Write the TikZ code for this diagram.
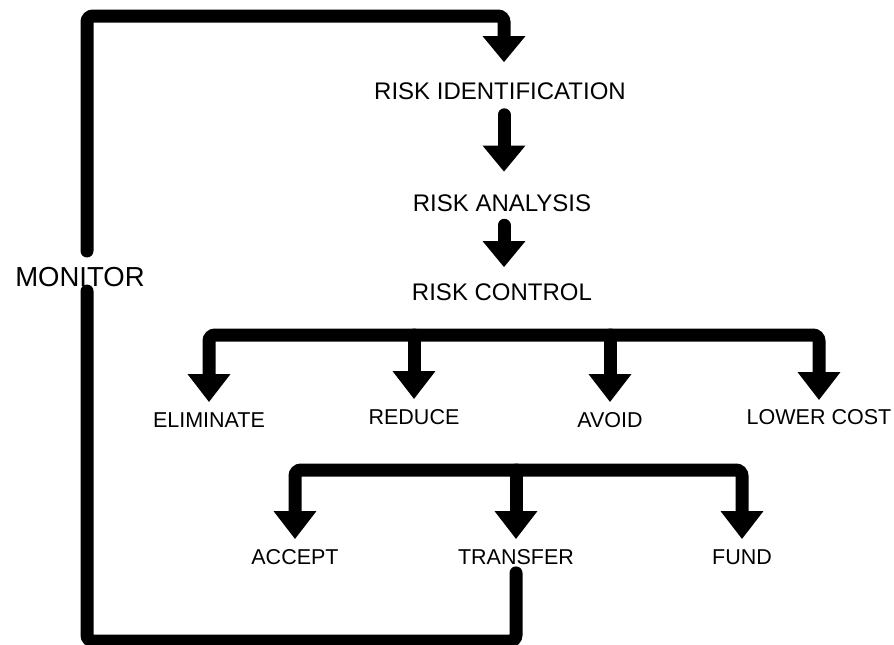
\documentclass[tikz,border=0pt]{standalone}
\usepackage{fontspec}
\setmainfont{Liberation Sans}
\usetikzlibrary{arrows.meta}
\tikzset{
  big/.style={font=\fontsize{24}{28}\selectfont, inner sep=0pt, text height=17.2pt, text depth=0pt},
  small/.style={font=\fontsize{21.5}{26}\selectfont, inner sep=0pt, text height=15.4pt, text depth=0pt},
  mon/.style={font=\fontsize{27.5}{32}\selectfont, inner sep=0pt, text height=19.7pt, text depth=0pt},
  thick line/.style={line width=13pt, line cap=round, rounded corners=6pt},
  flow/.style={thick line, -{Triangle[width=41pt,length=26pt]}},
  flowtwo/.style={thick line, {Triangle[width=41pt,length=28pt]}-{Triangle[width=41pt,length=28pt]}},
  flowrow/.style={thick line, -{Triangle[width=41pt,length=28pt]}},
  plain/.style={thick line}
}
\begin{document}
\begin{tikzpicture}[x=1pt,y=-1pt]
\useasboundingbox (0,0) rectangle (894,645);
% nodes
\node[big] (ri) at (500,91) {RISK IDENTIFICATION};
\node[big] (ra) at (502,202.5) {RISK ANALYSIS};
\node[big] (rc) at (502,292) {RISK CONTROL};
\node[small] (elim) at (209,420) {ELIMINATE};
\node[small] (red) at (414,417) {REDUCE};
\node[small] (avo) at (610,420) {AVOID};
\node[small] (lc) at (819,417) {LOWER COST};
\node[small] (acc) at (295,557) {ACCEPT};
\node[small] (tr) at (516,557) {TRANSFER};
\node[small] (fund) at (742,557) {FUND};
\node[mon] (mon) at (80,277) {MONITOR};
% helper coordinates
\coordinate (c) at (504,0);
\coordinate (top) at (87,16);
\coordinate (bot) at (87,641);
\coordinate (b1) at (512,335);
\coordinate (b2) at (518,470);
% main column
\draw[flow, shorten <=15pt, shorten >=22pt] (ri.south -| c) -- (ra.north -| c);
\draw[flow, shorten <=14pt, shorten >=16pt] (ra.south -| c) -- (rc.north -| c);
% control options
\draw[flowtwo, shorten <=10pt, shorten >=9pt] (elim.north) |- (b1) -| (lc.north);
\draw[flowrow, shorten >=10pt] (b1 -| red) -- (red.north);
\draw[flowrow, shorten >=10pt] (b1 -| avo) -- (avo.north);
% financing options
\draw[flowtwo, shorten <=10pt, shorten >=10pt] (acc.north) |- (b2) -| (fund.north);
\draw[flowrow, shorten >=10pt] (b2 -| tr) -- (tr.north);
% monitor loop
\draw[plain, shorten <=8pt, shorten >=4pt] (tr.south) |- (bot) -- (mon.south -| bot);
\draw[flow, shorten <=16pt, shorten >=20pt] (mon.north -| top) -- (top) -| (ri.north -| c);
\end{tikzpicture}
\end{document}
